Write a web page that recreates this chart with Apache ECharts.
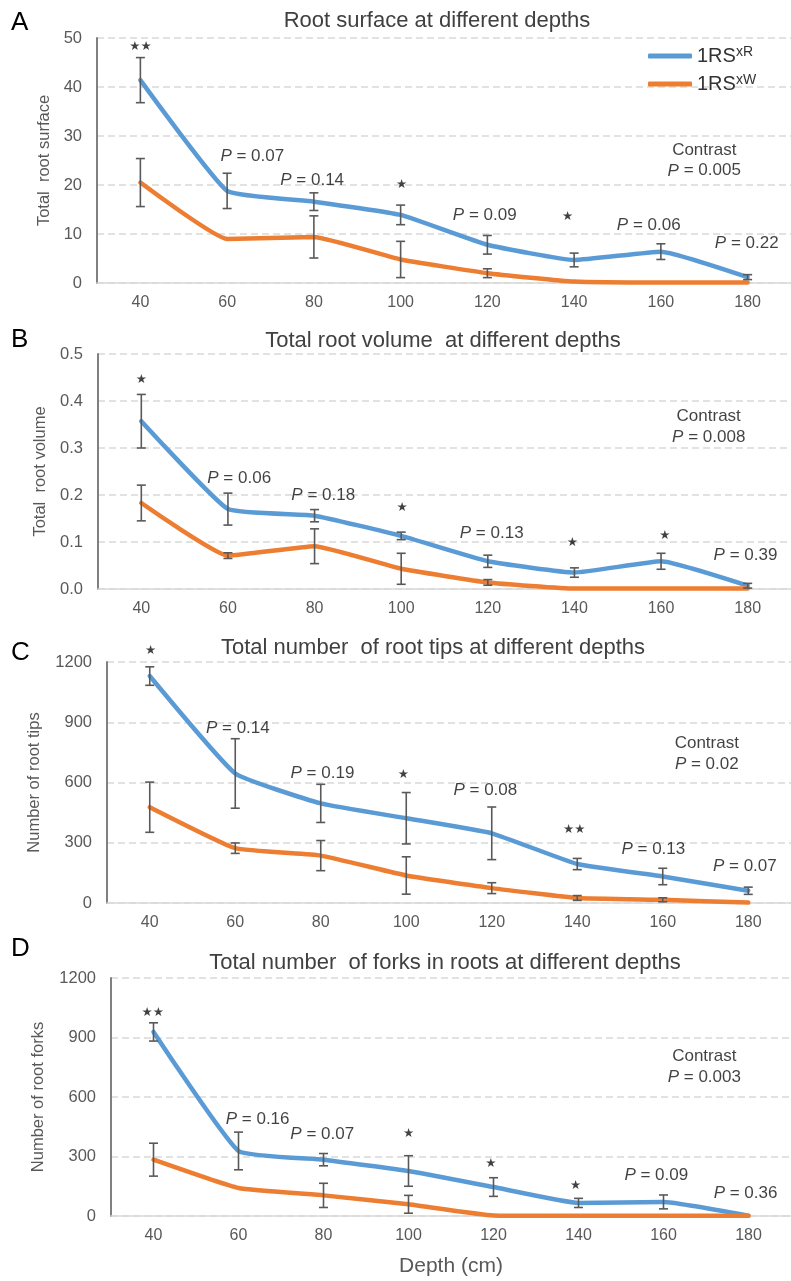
<!DOCTYPE html>
<html>
<head>
<meta charset="utf-8">
<script src="https://cdn.jsdelivr.net/npm/echarts@6/dist/echarts.min.js"></script>
<style>
html,body{margin:0;padding:0;background:#fff;}
#chart{width:791px;height:1281px;}
</style>
</head>
<body>
<div id="chart"></div>
<script>
// ---- data ----
const depths = ['40','60','80','100','120','140','160','180'];
const seriesNames = ['1RSxR', '1RSxW'];

// A: root surface
const surfR    = [41.4, 18.8, 16.6, 13.9, 7.8, 4.7, 6.4, 1.2];
const surfRErr = [4.6, 3.6, 1.8, 2.0, 1.9, 1.4, 1.6, 0.5];
const surfW    = [20.5, 9.0, 9.4, 4.8, 2.0, 0.3, 0.1, 0.1];
const surfWErr = [4.9, 0, 4.3, 3.7, 0.9, 0, 0, 0];

// B: root volume
const volR    = [0.357, 0.170, 0.156, 0.113, 0.059, 0.035, 0.059, 0.007];
const volRErr = [0.057, 0.034, 0.013, 0.008, 0.013, 0.010, 0.017, 0.005];
const volW    = [0.183, 0.071, 0.091, 0.043, 0.014, 0.001, 0.001, 0.001];
const volWErr = [0.038, 0.006, 0.037, 0.033, 0.006, 0, 0, 0];

// C: root tips
const tipsR    = [1130, 645, 496, 422, 347, 194, 132, 61];
const tipsRErr = [46, 173, 95, 128, 131, 28, 41, 18];
const tipsW    = [477, 273, 236, 137, 74, 25, 16, 2];
const tipsWErr = [125, 26, 75, 93, 27, 12, 10, 0];

// D: root forks
const forksR    = [928, 328, 284, 227, 146, 66, 71, 2];
const forksRErr = [46, 95, 31, 77, 47, 23, 35, 0];
const forksW    = [284, 141, 104, 59, 3, 1, 1, 1];
const forksWErr = [83, 0, 61, 45, 0, 0, 0, 0];

// panel titles / axis names
const panelLetters = ['A', 'B', 'C', 'D'];
const panelTitles = [
  'Root surface at different depths',
  'Total root volume  at different depths',
  'Total number  of root tips at different depths',
  'Total number  of forks in roots at different depths'
];
const yNames = ['Total  root surface', 'Total  root volume', 'Number of root tips', 'Number of root forks'];
const yMax = [50, 0.5, 1200, 1200];
const yInterval = [10, 0.1, 300, 300];

// annotations: [depth, value, text]
const annA = [[40, 48.2, '**'], [65.8, 25.8, 'P = 0.07'], [79.6, 21.0, 'P = 0.14'], [100.2, 20.0, '*'],
  [119.4, 13.9, 'P = 0.09'], [138.5, 13.5, '*'], [157.2, 11.8, 'P = 0.06'], [179.8, 8.1, 'P = 0.22'],
  [170, 27.1, 'Contrast'], [170, 22.9, 'P = 0.005']];
const annB = [[40, 0.445, '*'], [62.6, 0.236, 'P = 0.06'], [82.0, 0.200, 'P = 0.18'], [100.2, 0.172, '*'],
  [120.9, 0.119, 'P = 0.13'], [139.5, 0.098, '*'], [160.9, 0.113, '*'], [179.5, 0.071, 'P = 0.39'],
  [171, 0.367, 'Contrast'], [171, 0.323, 'P = 0.008']];
const annC = [[40.2, 1254, '*'], [60.6, 869, 'P = 0.14'], [80.4, 648, 'P = 0.19'], [99.3, 637, '*'],
  [118.5, 563, 'P = 0.08'], [139.3, 364, '**'], [157.8, 268, 'P = 0.13'], [179.2, 182, 'P = 0.07'],
  [170.3, 794, 'Contrast'], [170.3, 690, 'P = 0.02']];
const annD = [[39.8, 1024, '**'], [64.5, 486, 'P = 0.16'], [79.7, 410, 'P = 0.07'], [100, 415, '*'],
  [119.4, 261, '*'], [139.3, 151, '*'], [158.3, 205, 'P = 0.09'], [179.3, 113, 'P = 0.36'],
  [169.6, 805, 'Contrast'], [169.6, 701, 'P = 0.003']];

// ---- layout / style ----
const FONT = "'Liberation Sans', Arial, sans-serif";
const BLUE = '#5B9BD5', ORANGE = '#ED7D31';
const grids = [
  {left: 97, top: 38, height: 245, right: -5},
  {left: 98, top: 354, height: 235, right: -4},
  {left: 107, top: 662, height: 241, right: -6},
  {left: 111, top: 978, height: 238, right: -9}
];
const nameGaps = [44, 48, 64, 64];
const titlePos = [[437, 10], [443, 330], [433, 637], [445, 952]];
const letterPos = [[11, 10], [11, 327], [11, 640], [11, 936]];

const panels = [
  {r: surfR, re: surfRErr, w: surfW, we: surfWErr, ann: annA},
  {r: volR, re: volRErr, w: volW, we: volWErr, ann: annB},
  {r: tipsR, re: tipsRErr, w: tipsW, we: tipsWErr, ann: annC},
  {r: forksR, re: forksRErr, w: forksW, we: forksWErr, ann: annD}
];

function errSeries(p, vals, errs) {
  return {
    type: 'custom',
    xAxisIndex: 2 * p, yAxisIndex: p,
    z: 5, silent: true,
    data: vals.map((v, i) => [i, v, errs[i]]),
    encode: {x: 0, y: 1},
    renderItem: function (params, api) {
      const i = api.value(0), v = api.value(1), e = api.value(2);
      if (!e) return;
      const t = api.coord([i, v + e]);
      const b = api.coord([i, v - e]);
      const hw = 4.5;
      const st = {stroke: '#595959', lineWidth: 1.6};
      return {
        type: 'group',
        children: [
          {type: 'line', shape: {x1: t[0], y1: t[1], x2: b[0], y2: b[1]}, style: st},
          {type: 'line', shape: {x1: t[0] - hw, y1: t[1], x2: t[0] + hw, y2: t[1]}, style: st},
          {type: 'line', shape: {x1: b[0] - hw, y1: b[1], x2: b[0] + hw, y2: b[1]}, style: st}
        ]
      };
    }
  };
}

const option = {
  animation: false,
  backgroundColor: '#fff',
  grid: grids,
  xAxis: [],
  yAxis: [],
  series: [],
  legend: {
    data: seriesNames,
    orient: 'vertical',
    left: 643, top: 40,
    itemWidth: 44, itemHeight: 5, itemGap: 7,
    icon: 'roundRect',
    formatter: function (n) { return n === '1RSxR' ? '{a|1RS}{s|xR}' : '{a|1RS}{s|xW}'; },
    textStyle: {
      fontFamily: FONT, color: '#404040',
      rich: {
        a: {fontSize: 20, fontFamily: FONT, color: '#333', lineHeight: 22},
        s: {fontSize: 14, fontFamily: FONT, color: '#333', verticalAlign: 'top', lineHeight: 22, padding: [0, 0, 7, 0]}
      }
    }
  },
  graphic: []
};

panels.forEach((pd, p) => {
  option.xAxis.push({
    type: 'category', gridIndex: p, data: depths, boundaryGap: true,
    axisLine: {show: true, lineStyle: {color: '#d9d9d9', width: 1.5}},
    axisTick: {show: false},
    axisLabel: {color: '#595959', fontSize: 16, fontFamily: FONT, margin: 12},
    splitLine: {show: false},
    name: p === 3 ? 'Depth (cm)' : '',
    nameLocation: 'middle', nameGap: 40,
    nameTextStyle: {color: '#595959', fontSize: 21, fontFamily: FONT}
  });
  option.xAxis.push({
    type: 'value', gridIndex: p, min: 30, max: 190, show: false
  });
  option.yAxis.push({
    type: 'value', gridIndex: p, min: 0, max: yMax[p], interval: yInterval[p],
    axisLine: {show: true, lineStyle: {color: '#808080', width: 2}},
    axisTick: {show: false},
    axisLabel: {
      color: '#595959', fontSize: 16.5, fontFamily: FONT, margin: 15,
      formatter: p === 1 ? (v => v.toFixed(1)) : (v => String(v))
    },
    splitLine: {show: true, lineStyle: {color: '#d9d9d9', width: 1.5, type: [7, 4]}},
    name: yNames[p], nameLocation: 'middle', nameGap: nameGaps[p], nameRotate: 90,
    nameTextStyle: {color: '#595959', fontSize: 16.5, fontFamily: FONT}
  });
  [[pd.r, BLUE, seriesNames[0]], [pd.w, ORANGE, seriesNames[1]]].forEach(([vals, col, nm]) => {
    option.series.push({
      type: 'line', name: nm, xAxisIndex: 2 * p, yAxisIndex: p,
      data: vals, symbol: 'none', smooth: 0.12, z: 3,
      lineStyle: {color: col, width: 4.5, cap: 'round', join: 'round'},
      itemStyle: {color: col}
    });
  });
  option.series.push(errSeries(p, pd.r, pd.re));
  option.series.push(errSeries(p, pd.w, pd.we));
  option.series.push({
    type: 'scatter', xAxisIndex: 2 * p + 1, yAxisIndex: p,
    symbolSize: 0, clip: false, silent: true, z: 10,
    data: pd.ann.map(a => ({value: [a[0], a[1]], name: a[2]})),
    label: {
      show: true, position: 'inside', align: 'center', verticalAlign: 'middle',
      color: '#111', fontSize: 17, fontFamily: FONT,
      formatter: function (prm) {
        const t = prm.name;
        if (t.indexOf('P = ') === 0) return '{i|P} = ' + t.slice(4);
        if (t.charAt(0) === '*') return '{st|' + t.replace(/\*/g, '\u2605') + '}';
        return t;
      },
      rich: {
        i: {fontStyle: 'italic', fontSize: 17, fontFamily: FONT, color: '#111'},
        st: {fontSize: 12.5, fontFamily: "'DejaVu Sans', sans-serif", color: '#111'}
      }
    }
  });
  option.graphic.push({
    type: 'text', x: titlePos[p][0], y: titlePos[p][1],
    style: {text: panelTitles[p], font: '22px ' + FONT, fill: '#404040', align: 'center', verticalAlign: 'top'}
  });
  option.graphic.push({
    type: 'text', x: letterPos[p][0], y: letterPos[p][1],
    style: {text: panelLetters[p], font: '26px ' + FONT, fill: '#000', align: 'left', verticalAlign: 'top'}
  });
});

const chart = echarts.init(document.getElementById('chart'), null, {renderer: 'canvas'});
chart.setOption(option);
</script>
</body>
</html>
